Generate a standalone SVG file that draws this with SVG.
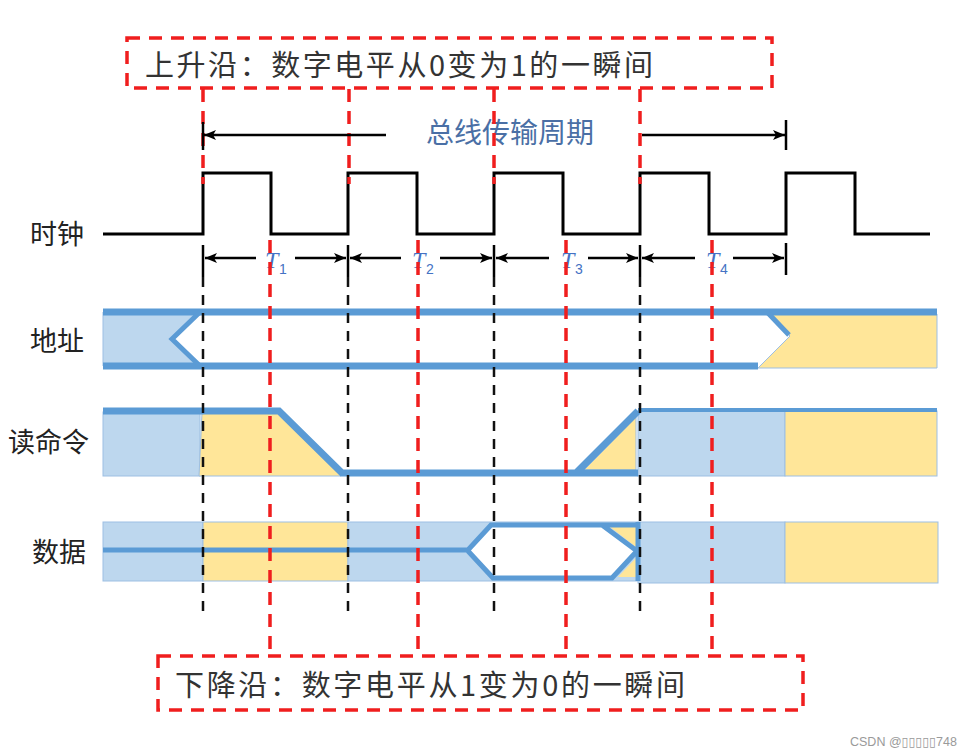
<svg xmlns="http://www.w3.org/2000/svg" width="965" height="756" viewBox="0 0 965 756">
<defs>
<marker id="ah" viewBox="0 0 12 10" refX="12" refY="5" markerWidth="12" markerHeight="10" markerUnits="userSpaceOnUse" orient="auto-start-reverse">
<path d="M0,0 L12,5 L0,10 L3,5 z" fill="#000"/>
</marker>
<style>
.lbl{font-family:"Noto Sans CJK SC","Liberation Sans",sans-serif;font-size:27px;fill:#222}
.note{font-family:"Noto Sans CJK SC","Liberation Serif",sans-serif;font-size:29px;fill:#333}
.title{font-family:"Noto Sans CJK SC","Liberation Sans",sans-serif;font-size:28px;fill:#4a6fa5}
.tt{font-family:"Liberation Serif",serif;font-style:italic;font-size:24px;fill:#4472c4}
.ts{font-family:"Liberation Sans",sans-serif;font-size:14px;fill:#4472c4}
.lb{fill:#bdd7ee;stroke:#9dbfe3;stroke-width:1}
.yl{fill:#ffe699;stroke:#9dbfe3;stroke-width:1}
.bus{fill:none;stroke:#5b9bd5;stroke-width:7;stroke-linejoin:miter}
.bus5{fill:none;stroke:#5b9bd5;stroke-width:5}
.red{fill:none;stroke:#f01e1e;stroke-width:3.5;stroke-dasharray:13 9}
.blk{fill:none;stroke:#111;stroke-width:2.5;stroke-dasharray:10 8}
.arr{fill:none;stroke:#000;stroke-width:2.5;marker-end:url(#ah)}
.tick{stroke:#000;stroke-width:2.5}
</style>
</defs>
<rect width="965" height="756" fill="#ffffff"/>

<g id="labels">
<text class="lbl" x="30" y="244">时钟</text>
<text class="lbl" x="30" y="351">地址</text>
<text class="lbl" x="8" y="452">读命令</text>
<text class="lbl" x="32" y="562">数据</text>
</g>

<g id="address">
<polygon class="lb" points="103,312 200,312 172,339 200,366 103,366"/>
<polygon class="yl" points="768,314 937,314 937,368 758,368 790,336"/>
<path class="bus" d="M103,312 H937 M103,366 H758"/>
<path class="bus5" d="M200,312 L172,339 L200,366 M768,313 L789,335"/>
</g>

<g id="readcmd">
<rect class="lb" x="103" y="412" width="97" height="64"/>
<polygon class="yl" points="202,413 278,413 341,476 199,476"/>
<polygon class="yl" points="584,470 636,417 636,470"/>
<rect class="lb" x="638" y="411" width="147" height="65"/>
<rect class="yl" x="785" y="411" width="152" height="65"/>
<path class="bus" d="M103,411 H279 L342,473 H638 M576,473 L638,411"/>
<path fill="none" stroke="#5b9bd5" stroke-width="4" d="M638,410 H937"/>
</g>

<g id="data">
<rect class="lb" x="103" y="522" width="100" height="59"/>
<rect class="yl" x="203" y="522" width="145" height="59"/>
<rect class="lb" x="348" y="522" width="290" height="59"/>
<rect class="lb" x="638" y="522" width="147" height="61"/>
<rect class="yl" x="785" y="522" width="153" height="61"/>
<polygon fill="#ffffff" points="468,551 492,525 603,525 637,551 612,578 493,578"/>
<polygon fill="#ffe699" points="610,527 636,527 636,547"/>
<polygon fill="#ffe699" points="618,577 636,558 636,577"/>
<path class="bus5" d="M103,550 H468 L491,525 H638 M602,525 L637,551 L612,578 H493 L468,551 M638,522 V581" stroke-width="6"/>
</g>

<g id="clock">
<path fill="none" stroke="#000" stroke-width="3" d="M103,234 H203 V173 H271 V234 H348 V173 H417 V234 H494 V173 H563 V234 H640 V173 H709 V234 H786 V173 H855 V234 H930"/>
</g>

<g id="period">
<text class="title" x="510" y="143" text-anchor="middle">总线传输周期</text>
<text class="tt" x="265" y="268">T</text><text class="ts" x="279" y="274">1</text>
<text class="tt" x="412" y="268">T</text><text class="ts" x="426" y="274">2</text>
<text class="tt" x="561" y="268">T</text><text class="ts" x="575" y="274">3</text>
<text class="tt" x="706" y="268">T</text><text class="ts" x="720" y="274">4</text>
</g>

<g id="rising-note">
<rect class="red" x="127" y="38" width="645" height="50"/>
<text class="note" x="145" y="76" textLength="508">上升沿：数字电平从0变为1的一瞬间</text>
</g>

<g id="falling-note">
<rect class="red" x="158" y="656" width="645" height="54"/>
<text class="note" x="175" y="696" textLength="510">下降沿：数字电平从1变为0的一瞬间</text>
</g>

<g id="connectors">
<path class="red" d="M203,89 V184 M349,89 V184 M494,89 V184 M640,89 V184"/>
<path class="red" d="M270,240 V655 M418,240 V655 M566,240 V655 M712,240 V655"/>
<path class="blk" d="M203,277 V612 M348,277 V612 M494,277 V612 M640,277 V612"/>
<line class="arr" x1="386" y1="135" x2="204" y2="135"/>
<line class="arr" x1="642" y1="135" x2="785" y2="135"/>
<line class="tick" x1="203" y1="122" x2="203" y2="150"/>
<line class="tick" x1="786" y1="120" x2="786" y2="150"/>
<line class="tick" x1="203" y1="245" x2="203" y2="277"/>
<line class="tick" x1="348" y1="245" x2="348" y2="277"/>
<line class="tick" x1="494" y1="245" x2="494" y2="277"/>
<line class="tick" x1="640" y1="245" x2="640" y2="277"/>
<line class="tick" x1="786" y1="243" x2="786" y2="275"/>
<line class="arr" x1="256" y1="258" x2="205" y2="258"/>
<line class="arr" x1="295" y1="258" x2="346" y2="258"/>
<line class="arr" x1="401" y1="258" x2="350" y2="258"/>
<line class="arr" x1="440" y1="258" x2="492" y2="258"/>
<line class="arr" x1="549" y1="258" x2="496" y2="258"/>
<line class="arr" x1="588" y1="258" x2="638" y2="258"/>
<line class="arr" x1="695" y1="258" x2="642" y2="258"/>
<line class="arr" x1="733" y1="258" x2="784" y2="258"/>
</g>

<text x="850" y="746" font-family="'Liberation Sans','DejaVu Sans',sans-serif" font-size="12.5" fill="#9a9a9a">CSDN @▯▯▯▯▯748</text>
</svg>
